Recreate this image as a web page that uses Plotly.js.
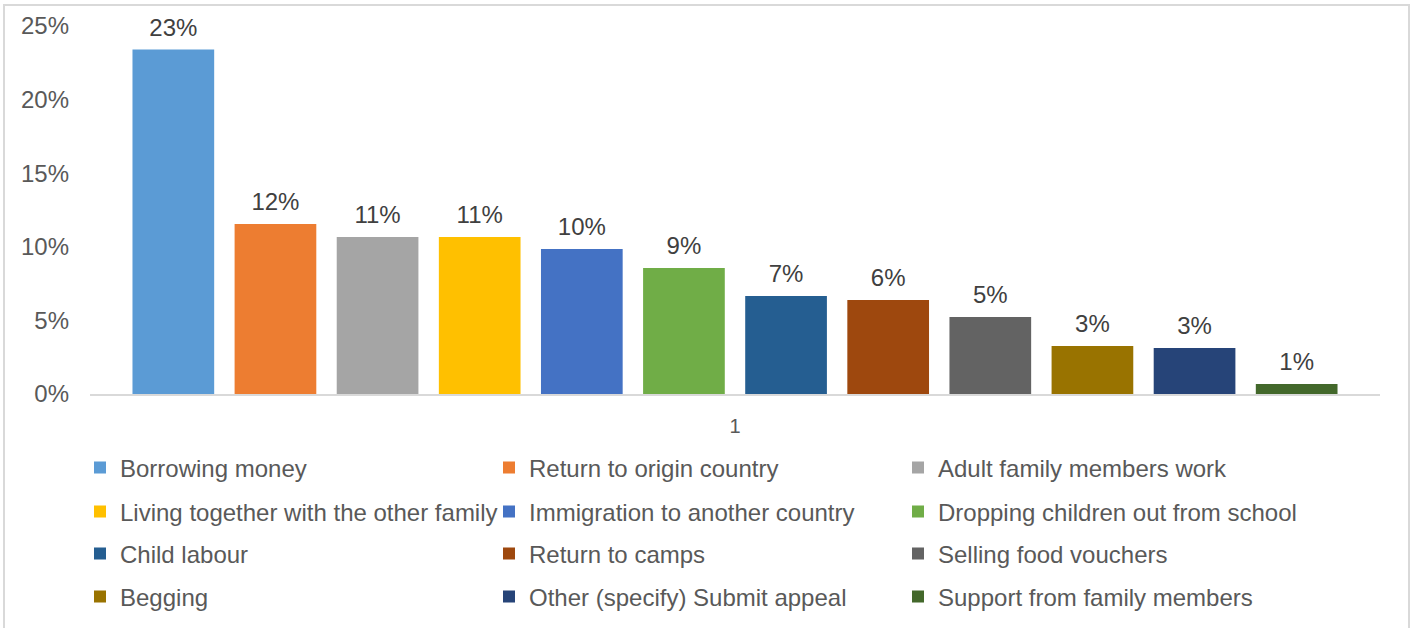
<!DOCTYPE html>
<html>
<head>
<meta charset="utf-8">
<script src="https://cdn.plot.ly/plotly-3.0.1.min.js"></script>
<style>
  html, body { margin: 0; padding: 0; background: #ffffff; }
  #chart { width: 1415px; height: 628px; }
</style>
</head>
<body>
<div id="chart"></div>
<script>
// ---- data ----
const categoryLabel = ['1'];
const seriesNames = [
  'Borrowing money',
  'Return to origin country',
  'Adult family members work',
  'Living together with the other family',
  'Immigration to another country',
  'Dropping children out from school',
  'Child labour',
  'Return to camps',
  'Selling food vouchers',
  'Begging',
  'Other (specify) Submit appeal',
  'Support from family members'
];
const seriesValues = [0.234, 0.1155, 0.1067, 0.1067, 0.0985, 0.0856, 0.0666, 0.0639, 0.0523, 0.0326, 0.0313, 0.0068];
const yTickValues = [0, 0.05, 0.10, 0.15, 0.20, 0.25];
const yTickLabels = ['0%', '5%', '10%', '15%', '20%', '25%'];

// ---- styles ----
const colors = ['#5b9bd5', '#ed7d31', '#a5a5a5', '#ffc000', '#4472c4', '#70ad47',
                '#255e91', '#9e480e', '#636363', '#997300', '#264478', '#43682b'];
const FONT = 'Liberation Sans, Arial, sans-serif';

const idx = seriesNames.map((_, i) => i);
const traces = [];
seriesNames.forEach((name, i) => {
  const row = Math.floor(i / 3);
  traces.push({
    type: 'bar',
    name: name,
    x: [i],
    y: [seriesValues[i]],
    width: 0.8,
    marker: { color: colors[i], line: { width: 0 } },
    legend: row === 0 ? 'legend' : 'legend' + (row + 1),
    hoverinfo: 'skip'
  });
});
// data labels
traces.push({
  type: 'scatter',
  mode: 'markers+text',
  x: idx,
  y: seriesValues,
  text: seriesValues.map(v => Math.round(v * 100) + '%'),
  textposition: 'top center',
  textfont: { family: FONT, size: 24, color: '#404040' },
  marker: { size: 11, opacity: 0 },
  showlegend: false,
  cliponaxis: false,
  hoverinfo: 'skip'
});

function legendRow(yPix) {
  return {
    orientation: 'h',
    xref: 'container', yref: 'container',
    x: 80 / 1415, xanchor: 'left',
    y: 1 - yPix / 628, yanchor: 'middle',
    entrywidth: 364, entrywidthmode: 'pixels',
    font: { family: FONT, size: 24, color: '#595959' },
    bgcolor: 'rgba(0,0,0,0)',
    itemclick: false, itemdoubleclick: false
  };
}

const layout = {
  width: 1415, height: 628,
  margin: { l: 90, r: 35, t: 26, b: 234 },
  paper_bgcolor: '#ffffff',
  plot_bgcolor: '#ffffff',
  barmode: 'overlay',
  showlegend: true,
  font: { family: FONT, color: '#595959' },
  xaxis: {
    range: [-0.816, seriesNames.length - 1 + 0.816],
    tickmode: 'array',
    tickvals: [(seriesNames.length - 1) / 2],
    ticktext: categoryLabel,
    tickfont: { family: FONT, size: 20, color: '#595959' },
    ticks: '', ticklabelstandoff: 13,
    showgrid: false, zeroline: false,
    showline: true, linecolor: '#d9d9d9', linewidth: 2,
    fixedrange: true
  },
  yaxis: {
    range: [0, 0.25],
    tickmode: 'array',
    tickvals: yTickValues,
    ticktext: yTickLabels,
    tickfont: { family: FONT, size: 24, color: '#595959' },
    ticks: '', ticklabelstandoff: 20,
    showgrid: false, zeroline: false, showline: false,
    fixedrange: true
  },
  legend: legendRow(468),
  legend2: legendRow(512),
  legend3: legendRow(554),
  legend4: legendRow(597),
  shapes: [{
    type: 'rect', xref: 'paper', yref: 'paper',
    x0: (4 - 90) / 1290, x1: (1409 - 90) / 1290,
    y0: -0.7, y1: (394 - 5) / 368,
    line: { color: '#d9d9d9', width: 2 },
    fillcolor: 'rgba(0,0,0,0)',
    layer: 'below'
  }]
};

Plotly.newPlot('chart', traces, layout, { displayModeBar: false, staticPlot: true });
</script>
</body>
</html>
